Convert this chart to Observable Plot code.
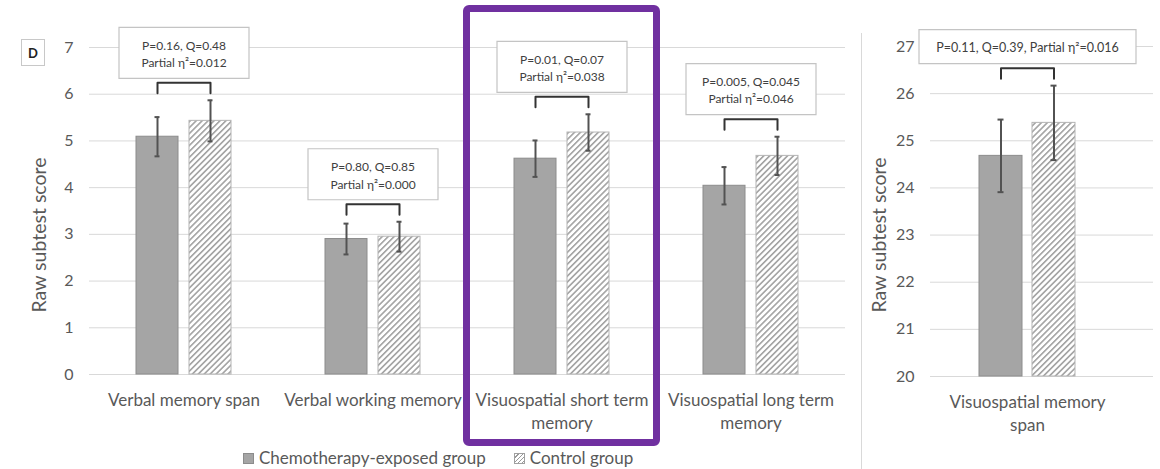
<!DOCTYPE html>
<html>
<head>
<meta charset="utf-8">
<script src="https://cdn.jsdelivr.net/npm/d3@7"></script>
<script src="https://cdn.jsdelivr.net/npm/@observablehq/plot@0.6"></script>
<style>
  body { margin: 0; background: #fff; width: 1160px; height: 469px; overflow: hidden; position: relative; font-family: Lato, "Open Sans", sans-serif; color: #595959; }
  #left { position: absolute; left: 0; top: 0; }
  #right { position: absolute; left: 860px; top: 0; }
  .ylabel { position: absolute; font-size: 19.5px; color: #595959; white-space: nowrap; transform: translate(-50%, -50%) rotate(-90deg); }
  #sep { position: absolute; left: 861px; top: 33px; width: 1px; height: 436px; background: #d9d9d9; }
  #tag { position: absolute; left: 21px; top: 39px; width: 24px; height: 27px; border: 1px solid #c8c8c8; font: bold 13px Lato, sans-serif; color: #222; display: flex; align-items: center; justify-content: center; box-sizing: border-box; }
  #highlight { position: absolute; left: 463px; top: 5px; width: 197px; height: 441px; border: 7px solid #7030a0; border-radius: 6px; box-sizing: border-box; pointer-events: none; }
  #legend { position: absolute; left: 243px; top: 447px; font-size: 17px; line-height: 22px; color: #595959; display: flex; gap: 28px; white-space: nowrap; }
  #legend span.item { display: flex; align-items: center; gap: 5px; }
  .sw { display: inline-block; width: 11px; height: 11px; box-sizing: border-box; }
  .sw.chemo { background: #a5a5a5; border: 1px solid #8c8c8c; }
  .sw.ctrl { border: 1px solid #a0a0a0; background: repeating-linear-gradient(135deg, #fff 0 2px, #9a9a9a 2px 3px); }
</style>
</head>
<body>
<div id="left"></div>
<div id="right"></div>
<div id="sep"></div>
<div id="tag">D</div>
<div class="ylabel" style="left:38px; top:235px;">Raw subtest score</div>
<div class="ylabel" style="left:878px; top:235px;">Raw subtest score</div>
<div id="legend">
  <span class="item"><span class="sw chemo"></span>Chemotherapy-exposed group</span>
  <span class="item"><span class="sw ctrl"></span>Control group</span>
</div>
<div id="highlight"></div>
<script>
// ---- data: subtests (left panel) ----
const categories = [
  "Verbal memory span",
  "Verbal working memory",
  "Visuospatial short term memory",
  "Visuospatial long term memory"
];
const categoryLabels = [
  "Verbal memory span",
  "Verbal working memory",
  "Visuospatial short term\nmemory",
  "Visuospatial long term\nmemory"
];
const groups = ["Chemotherapy-exposed group", "Control group"];
const chemoMean = [5.09, 2.90, 4.62, 4.04];
const chemoErr = [0.42, 0.33, 0.39, 0.40];
const controlMean = [5.43, 2.95, 5.18, 4.68];
const controlErr = [0.44, 0.32, 0.39, 0.41];
const pValues = ["0.16", "0.80", "0.01", "0.005"];
const qValues = ["0.48", "0.85", "0.07", "0.045"];
const etaSquared = ["0.012", "0.000", "0.038", "0.046"];
const leftTicks = [0, 1, 2, 3, 4, 5, 6, 7];

// ---- data: visuospatial memory span (right panel) ----
const spanCategory = ["Visuospatial memory span"];
const spanLabel = ["Visuospatial memory\nspan"];
const spanChemoMean = [24.68];
const spanChemoErr = [0.77];
const spanControlMean = [25.38];
const spanControlErr = [0.79];
const spanP = ["0.11"];
const spanQ = ["0.39"];
const spanEta = ["0.016"];
const rightTicks = [20, 21, 22, 23, 24, 25, 26, 27];

const CHEMO_FILL = "#a5a5a5";
const INK = "#404040";
const FONT = "Lato, 'Open Sans', sans-serif";

function rowsFor(cats, cm, ce, km, ke) {
  const rows = [];
  cats.forEach((c, i) => {
    rows.push({category: c, group: groups[0], mean: cm[i], err: ce[i]});
    rows.push({category: c, group: groups[1], mean: km[i], err: ke[i]});
  });
  return rows;
}

function hatchDefs(id) {
  const ns = "http://www.w3.org/2000/svg";
  const defs = document.createElementNS(ns, "defs");
  defs.innerHTML = `<pattern id="${id}" patternUnits="userSpaceOnUse" width="4.2" height="4.2" patternTransform="rotate(45)">
      <rect width="4.2" height="4.2" fill="#fff"/>
      <line x1="0.8" y1="0" x2="0.8" y2="4.2" stroke="#9c9c9c" stroke-width="1.5"/>
    </pattern>`;
  return defs;
}

// One bar panel: grouped bars with error bars, a bracket and a stats box per category.
function panel({cats, labels, rows, stats, domain, ticks, width, height, margins, boxW, boxH, statSize, hatchId, gridExtend, pad}) {
  const [mt, mr, mb, ml] = margins;
  const pxPerUnit = (height - mt - mb) / (domain[1] - domain[0]);
  const u = px => px / pxPerUnit;

  // bracket geometry, derived from the taller error bar of each pair
  const brackets = [];
  const boxes = [];
  cats.forEach((c, i) => {
    const pair = rows.filter(r => r.category === c);
    const top = d3.max(pair, r => r.mean + r.err);
    const b0 = top + u(7);
    const b1 = b0 + u(10.5);
    brackets.push({category: c, group: groups[0], y: b0});
    brackets.push({category: c, group: groups[0], y: b1});
    brackets.push({category: c, group: groups[1], y: b1});
    brackets.push({category: c, group: groups[1], y: b0});
    boxes.push({category: c, y: b1 + u(4.5) + u(boxH / 2), text: stats[i]});
  });
  const labelRows = cats.map((c, i) => ({category: c, label: labels[i]}));

  const boxSymbol = {
    draw(ctx) { ctx.rect(-boxW / 2, -boxH / 2, boxW, boxH); }
  };

  const svg = Plot.plot({
    width, height,
    marginTop: mt, marginRight: mr, marginBottom: mb, marginLeft: ml,
    style: {fontFamily: FONT, fontSize: "16px", color: "#595959", background: "transparent", overflow: "visible"},
    fx: {domain: cats, padding: 0, axis: null},
    x: {domain: groups, axis: null, paddingInner: pad[0], paddingOuter: pad[1]},
    y: {domain, ticks, clamp: true, tickSize: 0, tickPadding: 16, label: null, tickFormat: d => String(d)},
    marks: [
      Plot.ruleY(ticks, {stroke: "#d9d9d9", strokeWidth: 1, insetRight: -gridExtend}),
      Plot.barY(rows.filter(r => r.group === groups[0]), {fx: "category", x: "group", y1: () => domain[0], y2: "mean", fill: CHEMO_FILL, stroke: "#8c8c8c", strokeWidth: 1}),
      Plot.barY(rows.filter(r => r.group === groups[1]), {fx: "category", x: "group", y1: () => domain[0], y2: "mean", fill: `url(#${hatchId})`, stroke: "#b4b4b4", strokeWidth: 1}),
      Plot.ruleX(rows, {fx: "category", x: "group", y1: r => r.mean - r.err, y2: r => r.mean + r.err, stroke: "#525252", strokeWidth: 2}),
      Plot.tickY(rows, {fx: "category", x: "group", y: r => r.mean - r.err, stroke: "#525252", strokeWidth: 2, insetLeft: 18.5, insetRight: 18.5}),
      Plot.tickY(rows, {fx: "category", x: "group", y: r => r.mean + r.err, stroke: "#525252", strokeWidth: 2, insetLeft: 18.5, insetRight: 18.5}),
      Plot.line(brackets, {fx: "category", x: "group", y: "y", z: "category", stroke: "#333", strokeWidth: 2, curve: "linear"}),
      Plot.dot(boxes, {fx: "category", y: "y", symbol: boxSymbol, fill: "#fff", stroke: "#c4c4c4", strokeWidth: 1.2}),
      Plot.text(boxes, {fx: "category", y: "y", text: "text", fill: INK, fontSize: statSize, lineHeight: 1.45}),
      // category labels under each group
      Plot.text(labelRows, {fx: "category", text: "label", frameAnchor: "bottom", lineAnchor: "top", dy: 15, fontSize: 17, lineHeight: 1.35, fill: "#595959"})
    ]
  });
  svg.insertBefore(hatchDefs(hatchId), svg.firstChild);
  return svg;
}

const leftStats = categories.map((c, i) => `P=${pValues[i]}, Q=${qValues[i]}\nPartial η²=${etaSquared[i]}`);
document.getElementById("left").appendChild(panel({
  cats: categories, labels: categoryLabels,
  rows: rowsFor(categories, chemoMean, chemoErr, controlMean, controlErr),
  stats: leftStats, domain: [0, 7], ticks: leftTicks,
  width: 860, height: 440, margins: [47, 14, 66, 88],
  boxW: 130, boxH: 51, statSize: 12, hatchId: "hatch-left", gridExtend: 0, pad: [0.2, 0.855]
}));

const rightStats = spanCategory.map((c, i) => `P=${spanP[i]}, Q=${spanQ[i]}, Partial η²=${spanEta[i]}`);
document.getElementById("right").appendChild(panel({
  cats: spanCategory, labels: spanLabel,
  rows: rowsFor(spanCategory, spanChemoMean, spanChemoErr, spanControlMean, spanControlErr),
  stats: rightStats, domain: [20, 27], ticks: rightTicks,
  width: 300, height: 440, margins: [46, 36, 64, 70],
  boxW: 217, boxH: 34, statSize: 12.5, hatchId: "hatch-right", gridExtend: 29, pad: [0.185, 0.909]
}));
</script>
</body>
</html>
